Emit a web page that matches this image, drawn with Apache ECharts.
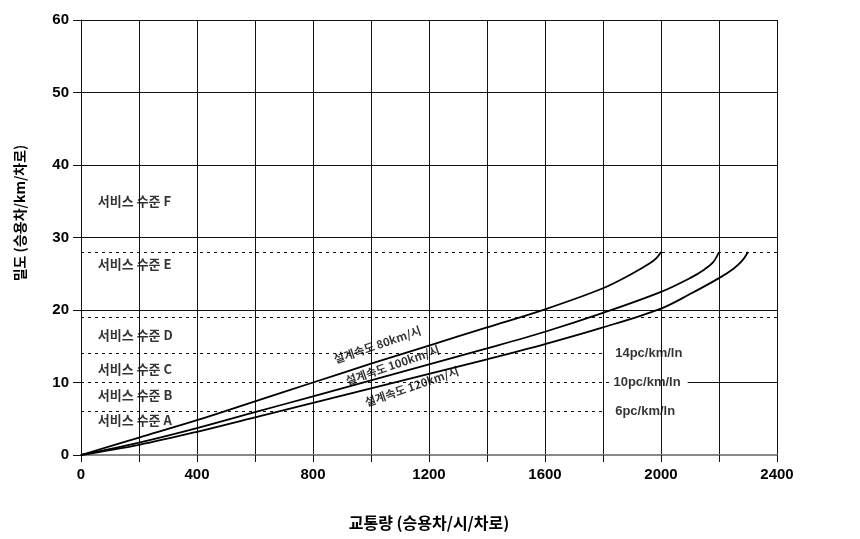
<!DOCTYPE html>
<html><head><meta charset="utf-8">
<script src="https://cdn.jsdelivr.net/npm/echarts@6/dist/echarts.min.js"></script>
<style>html,body{margin:0;padding:0;background:#fff}#c{width:860px;height:539px}</style>
</head><body><div id="c"></div>
<script>
// ---- data ----
const flow80 = [0,200,400,600,800,1000,1200,1400,1600,1800,1900,1960,1985,2000];
const dens80 = [0,2.4,4.8,7.4,10.0,12.6,15.1,17.6,20.1,23.0,25.0,26.4,27.2,28];
const flow100 = [0,200,400,600,800,1000,1200,1400,1600,1800,2000,2100,2150,2180,2200];
const dens100 = [0,1.7,3.7,5.9,8.1,10.3,12.5,14.7,17.0,19.6,22.5,24.4,25.6,26.6,28];
const flow120 = [0,200,400,600,800,1000,1200,1400,1600,1800,2000,2100,2200,2250,2280,2300];
const dens120 = [0,1.4,3.2,5.2,7.2,9.2,11.2,13.2,15.3,17.6,20.2,22.2,24.4,25.7,26.8,28];

const losNames = ['서비스 수준 F','서비스 수준 E','서비스 수준 D','서비스 수준 C','서비스 수준 B','서비스 수준 A'];
const losY = [35.0,26.4,16.55,11.9,8.25,4.85];
const losX = 58;

const thresholds = [28,19,14,10,6];
const thresholdLabels = ['28pc/km/ln','19pc/km/ln','14pc/km/ln','10pc/km/ln','6pc/km/ln'];
const thresholdEnd = [2400,2400,1810,1832,1810];
const thresholdLabelX = [2418,2418,1842,1836,1842];

const curveLabels = ['설계속도 80km/시','설계속도 100km/시','설계속도 120km/시'];
const curveLabelX = [1022,1074,1141];
const curveLabelY = [15.2,12.4,9.45];

const gridY = [20,30,40,50,60];
const partialGrid10Start = 2092;

const xName = '교통량 (승용차/시/차로)';
const yName = '밀도 (승용차/km/차로)';

const zip = (a,b) => a.map((v,i)=>[v,b[i]]);
const KR = "'Noto Sans CJK KR'";
const NUM = "'Liberation Sans', Arial";

const chart = echarts.init(document.getElementById('c'), null, {renderer:'canvas'});

const curveStyle = {color:'#000', width:1.8};
const markLines = [];
gridY.forEach(v => markLines.push([{coord:[0,v], lineStyle:{type:'solid',color:'#111',width:1}},{coord:[2400,v]}]));
markLines.push([{coord:[partialGrid10Start,10], lineStyle:{type:'solid',color:'#111',width:1}},{coord:[2400,10]}]);
thresholds.forEach((v,i) => markLines.push([{coord:[0,v], lineStyle:{type:[3,4],color:'#111',width:1}},{coord:[thresholdEnd[i],v]}]));

const textSeries = (data, extra) => Object.assign({
  type:'scatter', symbolSize:0, silent:true, z:10, data: data,
  label:{show:true, position:'inside', color:'#000', formatter: p => p.data[2]}
}, extra);

chart.setOption({
  animation:false,
  grid:{left:81, right:83, top:20, bottom:84, containLabel:false},
  xAxis:{
    type:'value', min:0, max:2400, interval:200,
    name: xName, nameLocation:'middle', nameGap:60,
    nameTextStyle:{fontFamily:KR, fontWeight:'bold', fontSize:16, color:'#000'},
    axisLine:{show:true, onZero:false, lineStyle:{color:'#888', width:2}},
    axisTick:{show:true, length:7, lineStyle:{color:'#111'}},
    axisLabel:{margin:12, color:'#000', fontFamily:NUM, fontWeight:'bold', fontSize:15,
      formatter: v => (v % 400 === 0 ? String(v) : '')},
    splitLine:{show:true, lineStyle:{color:'#111', width:1}}
  },
  yAxis:{
    type:'value', min:0, max:60, interval:10,
    axisLine:{show:true, lineStyle:{color:'#111', width:1}},
    axisTick:{show:true, length:8, lineStyle:{color:'#111'}},
    axisLabel:{margin:12, color:'#000', fontFamily:NUM, fontWeight:'bold', fontSize:15},
    splitLine:{show:false}
  },
  graphic:[{
    type:'text', x:20, y:213, rotation:Math.PI/2,
    style:{text:yName, fill:'#000', font:"bold 14px 'Noto Sans CJK KR'", textAlign:'center', textVerticalAlign:'middle'}
  }],
  series:[
    {type:'line', data:zip(flow80,dens80), smooth:0.35, showSymbol:false, lineStyle:curveStyle, silent:true, z:5},
    {type:'line', data:zip(flow100,dens100), smooth:0.35, showSymbol:false, lineStyle:curveStyle, silent:true, z:5},
    {type:'line', data:zip(flow120,dens120), smooth:0.35, showSymbol:false, lineStyle:curveStyle, silent:true, z:5},
    textSeries(losNames.map((t,i)=>[losX, losY[i], t]), {
      label:{show:true, position:'inside', align:'left', color:'#000', fontFamily:KR, fontWeight:'bold', fontSize:13, formatter:p=>p.data[2]},
      markLine:{silent:true, symbol:['none','none'], label:{show:false}, data:markLines, animation:false}
    }),
    textSeries(thresholdLabels.map((t,i)=>[thresholdLabelX[i], thresholds[i], t]), {
      label:{show:true, position:'inside', align:'left', color:'#000', fontFamily:NUM, fontWeight:'bold', fontSize:13, formatter:p=>p.data[2]}
    }),
    textSeries(curveLabels.map((t,i)=>[curveLabelX[i], curveLabelY[i], t]), {
      label:{show:true, position:'inside', align:'center', verticalAlign:'middle', rotate:19, color:'#000', fontFamily:KR, fontWeight:'bold', fontSize:11.5, formatter:p=>p.data[2]}
    })
  ]
});
</script></body></html>
